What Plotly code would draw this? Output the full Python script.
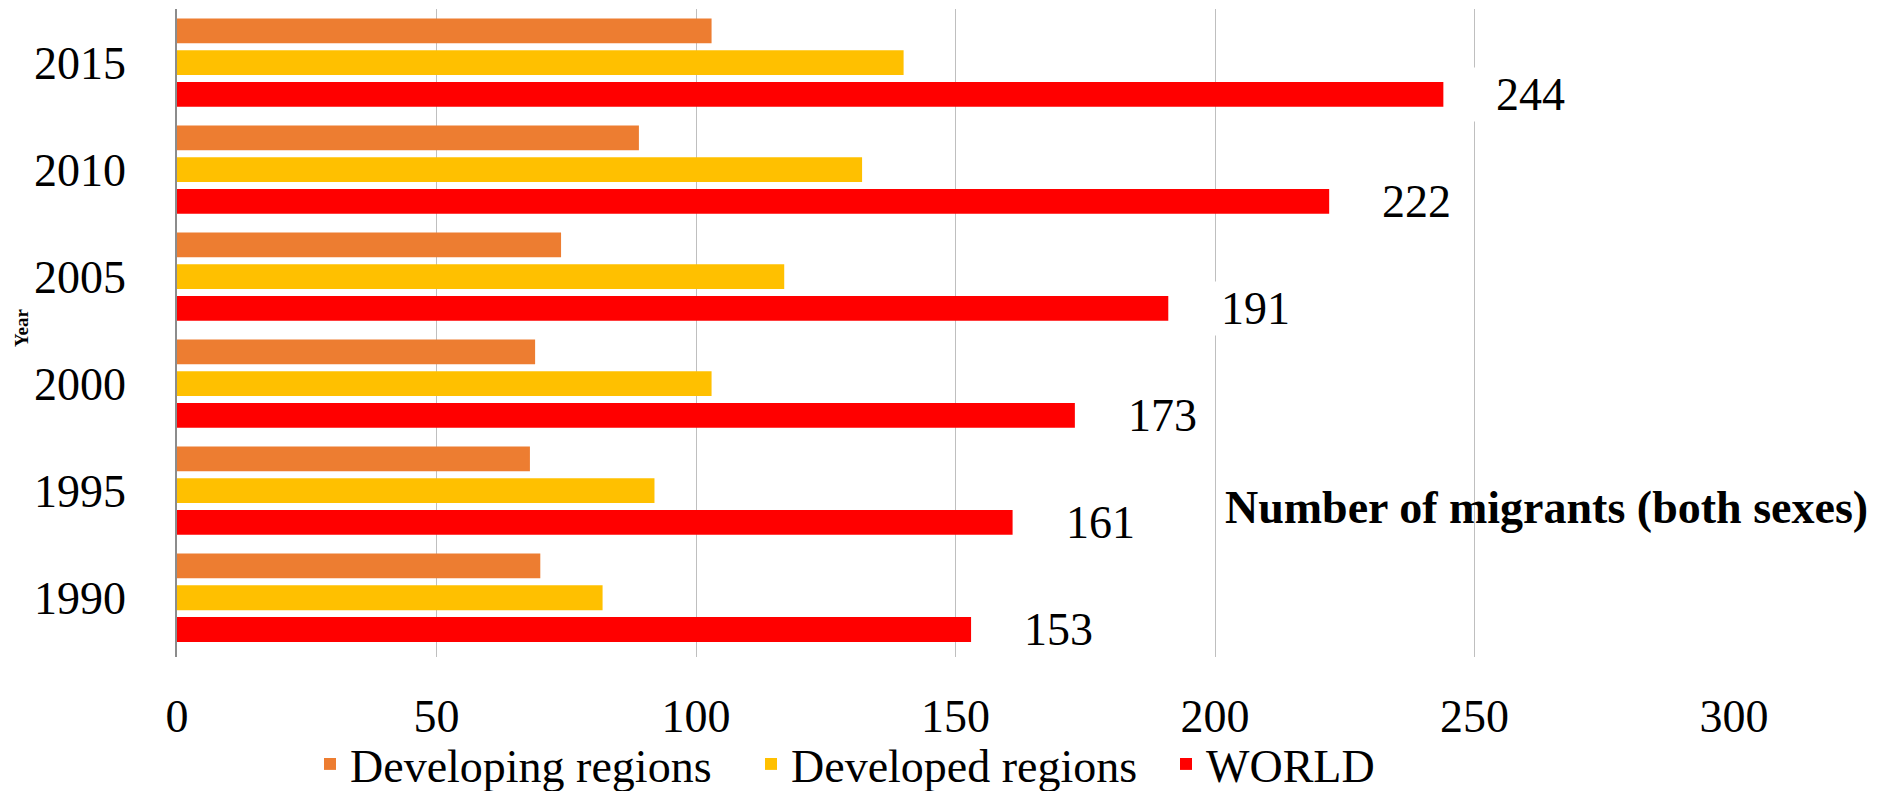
import plotly.graph_objects as go

years = ["1990", "1995", "2000", "2005", "2010", "2015"]
developing = [70, 68, 69, 74, 89, 103]
developed = [82, 92, 103, 117, 132, 140]
world = [153, 161, 173, 191, 222, 244]

series_names = ["WORLD", "Developed regions", "Developing regions"]
series_values = [world, developed, developing]
series_colors = ["#FF0000", "#FFC000", "#ED7D31"]

x_ticks = [0, 50, 100, 150, 200, 250, 300]
x_title = "Number of migrants (both sexes)"
y_title = "Year"

# styling
FONT = "Liberation Serif, serif"
W, H = 1892, 791
ML, MR, MT, MB = 177, 158, 9, 134
BARGAP = 0.11
GROUPGAP = 0.22
LEGEND_WIDTHS = {"WORLD": 170, "Developed regions": 370, "Developing regions": 396}

fig = go.Figure()
for name, vals, col in zip(series_names, series_values, series_colors):
    fig.add_trace(go.Bar(
        y=years, x=vals, name=name, orientation="h",
        marker=dict(color=col, line=dict(width=0)),
        legendwidth=LEGEND_WIDTHS[name],
    ))

# data labels for WORLD (bottom bar of each group)
slot = (1 - BARGAP) / 3
annotations = []
for i, v in enumerate(world):
    annotations.append(dict(
        x=v, y=i - slot, xref="x", yref="y",
        text=str(v), showarrow=False,
        xanchor="left", yanchor="middle", xshift=22,
        width=98, align="right", bgcolor="white", borderpad=1,
        font=dict(family=FONT, size=46, color="black"),
    ))

plot_w = W - ML - MR
plot_h = H - MT - MB
annotations.append(dict(
    text="<b>%s</b>" % x_title, showarrow=False,
    xref="paper", yref="paper",
    x=(1223 - ML) / plot_w, y=(H - MB - 507) / plot_h,
    xanchor="left", yanchor="middle",
    font=dict(family=FONT, size=46, color="black"),
))
annotations.append(dict(
    text="<b>%s</b>" % y_title, showarrow=False, textangle=-90,
    xref="paper", yref="paper",
    x=(21 - ML) / plot_w, y=(H - MB - 328) / plot_h,
    xanchor="center", yanchor="middle",
    font=dict(family=FONT, size=19, color="black"),
))

fig.update_layout(
    width=W, height=H,
    margin=dict(l=ML, r=MR, t=MT, b=MB, autoexpand=False),
    paper_bgcolor="white", plot_bgcolor="white",
    barmode="group", bargap=BARGAP, bargroupgap=GROUPGAP,
    font=dict(family=FONT, size=46, color="black"),
    showlegend=True,
    legend=dict(
        orientation="h", traceorder="reversed",
        xref="container", yref="container",
        x=310 / W, y=1 - 764 / H, xanchor="left", yanchor="middle",
        font=dict(family=FONT, size=46, color="black"),
        bgcolor="rgba(0,0,0,0)",
    ),
    annotations=annotations,
    xaxis=dict(
        range=[0, 300], tickvals=x_ticks, ticktext=[str(t) for t in x_ticks],
        showgrid=True, gridcolor="#BFBFBF", gridwidth=1,
        zeroline=False, showline=False, ticks="",
        ticklabelstandoff=28,
        tickfont=dict(family=FONT, size=46, color="black"),
    ),
    yaxis=dict(
        type="category", showgrid=False, zeroline=False,
        showline=True, linecolor="#8C8C8C", linewidth=1.5,
        ticks="", ticklabelstandoff=40,
        tickfont=dict(family=FONT, size=46, color="black"),
    ),
)

fig.write_html("out.html")
